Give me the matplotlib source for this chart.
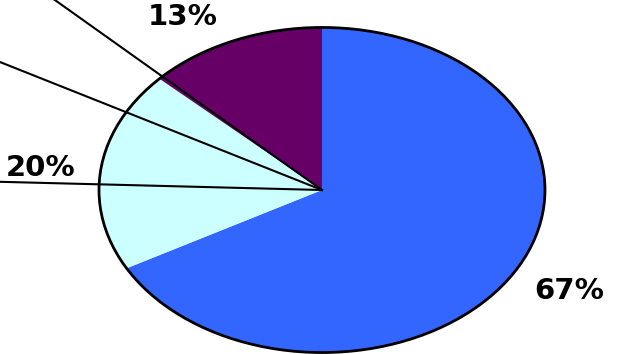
import numpy as np
import matplotlib
matplotlib.use('Agg')
import matplotlib.pyplot as plt
from matplotlib.patches import Circle

# Data
shares = [67, 20, 13]
colors = ['#3366FF', '#CCFFFF', '#660066']
labels = ['67%', '20%', '13%']

# Figure, axes fill the whole canvas; stretched so the pie is an ellipse
fig = plt.figure(figsize=(6.19, 3.54), dpi=100)
ax = fig.add_axes([0, 0, 1, 1])

wedges, _ = ax.pie(shares, colors=colors, startangle=90, counterclock=False,
                   radius=1, wedgeprops=dict(linewidth=0))
ax.set_aspect('auto')
ax.set_xlim(-1.444, 1.332)
ax.set_ylim(-1.009, 1.169)
ax.axis('off')

# black outline round the pie only
ax.add_patch(Circle((0, 0), 1, fill=False, edgecolor='black', linewidth=2.0, zorder=3))

# leader lines running to the centre from labels off the picture
for ang in [178.0, 151.4, 135.7]:
    t = np.deg2rad(ang)
    ax.plot([0, 3 * np.cos(t)], [0, 3 * np.sin(t)], color='black', linewidth=1.5, zorder=4)

# percentage labels
nudge = [1.3, 1.1, 7.1]
dist = [1.27, 1.27, 1.235]
for w, lab, dn, r in zip(wedges, labels, nudge, dist):
    mid = np.deg2rad((w.theta1 + w.theta2) / 2 + dn)
    ax.text(r * np.cos(mid), r * np.sin(mid), lab, ha='center', va='center',
            fontsize=21, fontweight='bold', family='DejaVu Sans', color='black')

fig.savefig('out.png', dpi=100)
